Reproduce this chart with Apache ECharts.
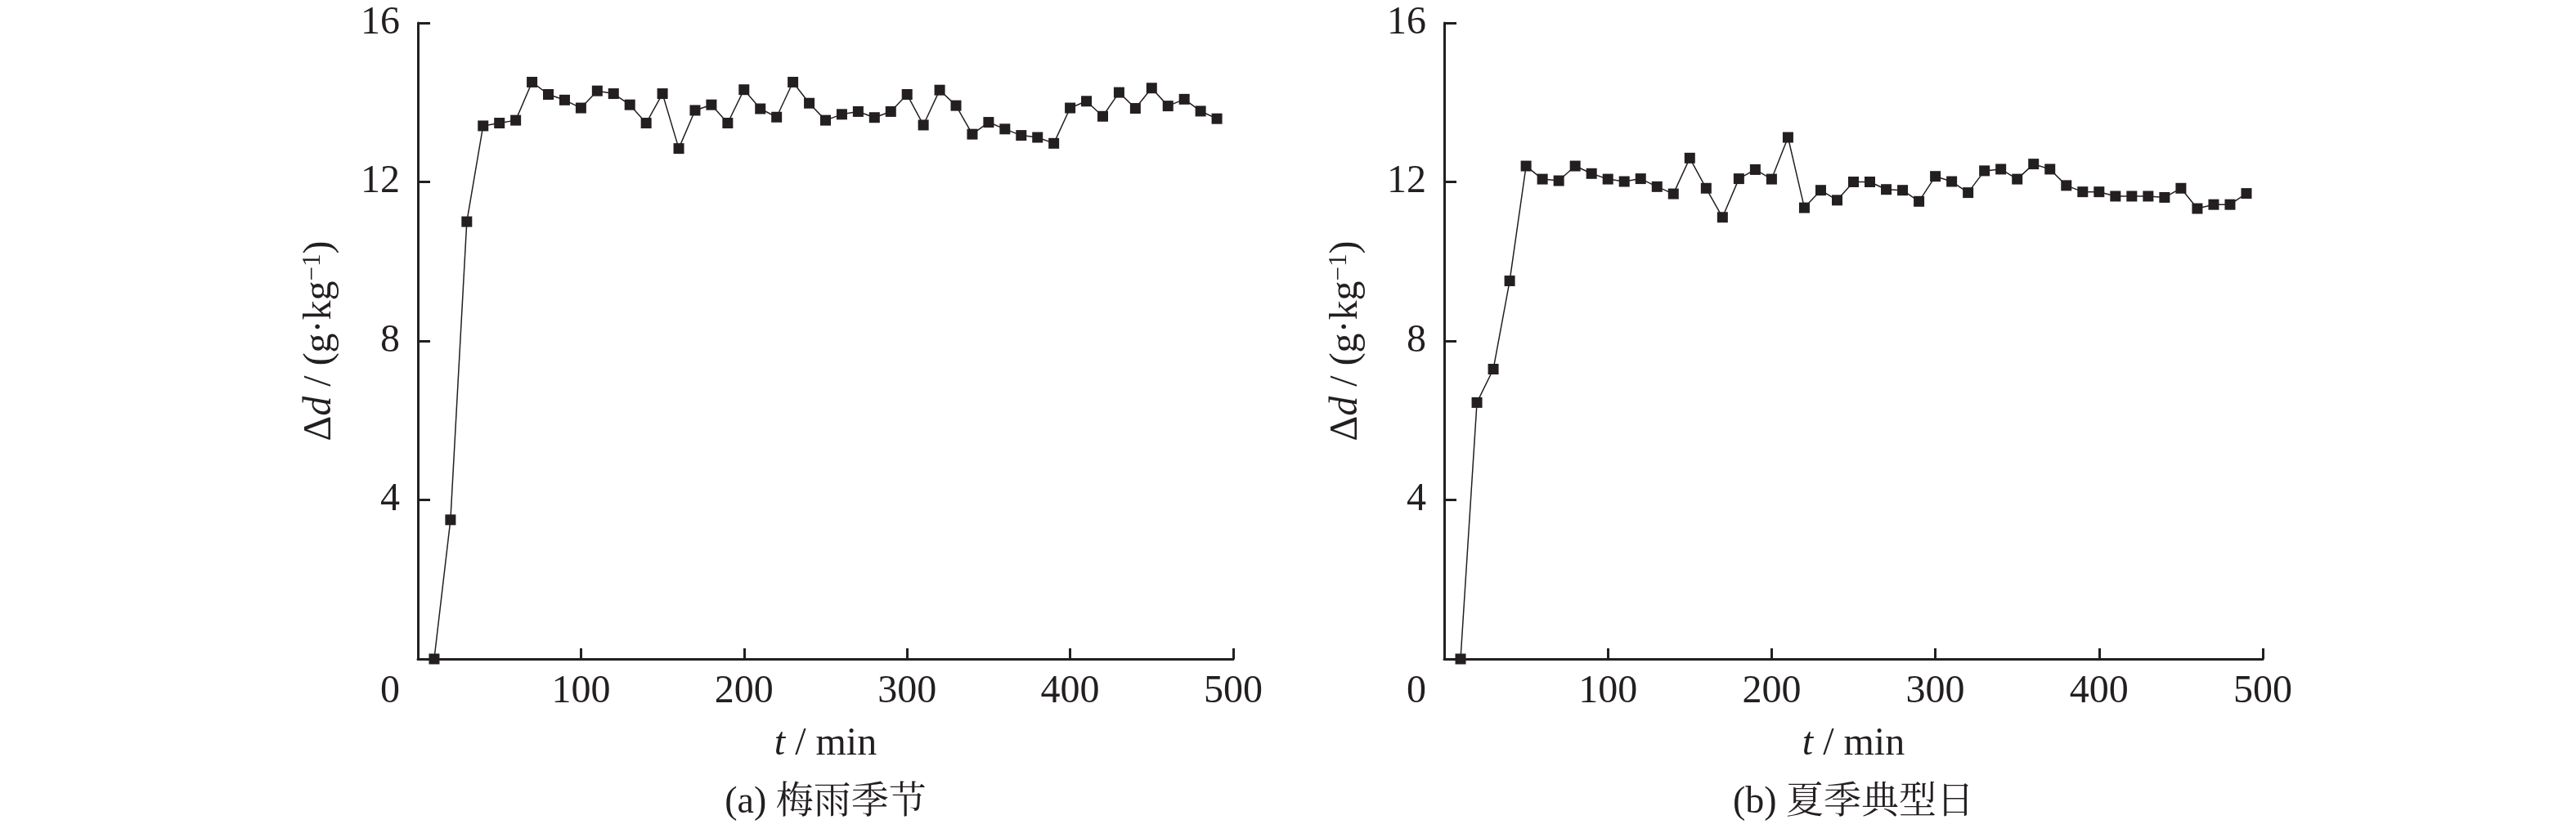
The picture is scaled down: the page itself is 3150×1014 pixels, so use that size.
<!DOCTYPE html>
<html lang="zh">
<head>
    <meta charset="UTF-8">
    <title>ECharts</title>
    <style>
        html, body { margin: 0; padding: 0; background: #fff; }
    </style>
</head>
<body>
<div id="main" style="width:3150px;height:1014px"></div>
</body>
<script src="https://cdn.jsdelivr.net/npm/echarts@6/dist/echarts.min.js"></script>

<script>
    // time (min)
    var times = [10, 20, 30, 40, 50, 60, 70, 80, 90, 100,
        110, 120, 130, 140, 150, 160, 170, 180, 190, 200,
        210, 220, 230, 240, 250, 260, 270, 280, 290, 300,
        310, 320, 330, 340, 350, 360, 370, 380, 390, 400,
        410, 420, 430, 440, 450, 460, 470, 480, 490];

    // (a) 梅雨季节
    var plumRain = [0, 3.5, 11.0, 13.41, 13.48, 13.55, 14.51, 14.2, 14.06, 13.86,
        14.29, 14.22, 13.94, 13.48, 14.22, 12.84, 13.8, 13.94, 13.48, 14.32,
        13.84, 13.63, 14.51, 13.98, 13.55, 13.70, 13.77, 13.62, 13.77, 14.20,
        13.43, 14.31, 13.92, 13.20, 13.50, 13.33, 13.17, 13.12, 12.97, 13.86,
        14.03, 13.65, 14.25, 13.85, 14.36, 13.91, 14.08, 13.78, 13.59];

    // (b) 夏季典型日
    var summerDay = [0, 6.45, 7.29, 9.51, 12.40, 12.07, 12.03, 12.40, 12.21, 12.07,
        12.01, 12.08, 11.88, 11.70, 12.60, 11.84, 11.11, 12.08, 12.31, 12.07,
        13.12, 11.35, 11.79, 11.54, 12.0, 12.0, 11.81, 11.79, 11.51, 12.14,
        12.01, 11.73, 12.28, 12.32, 12.07, 12.45, 12.32, 11.91, 11.75, 11.75,
        11.64, 11.64, 11.64, 11.61, 11.84, 11.33, 11.43, 11.43, 11.71];

    var captions = ['(a) 梅雨季节', '(b) 夏季典型日'];
    var xTicks = {min: 0, max: 500, interval: 100};
    var yTicks = {min: 0, max: 16, interval: 4};

    var ink = '#231f20';
    var serif = "'Liberation Serif', 'Times New Roman', serif";
    var cjk = "'Liberation Serif', 'Noto Serif CJK SC', 'Noto Sans CJK SC', serif";

    function pairs(vals) {
        var out = [];
        for (var i = 0; i < vals.length; i++) {
            out.push([times[i], vals[i]]);
        }
        return out;
    }

    var gridPos = [
        {left: 511, top: 28, width: 997, height: 778},
        {left: 1766, top: 28, width: 1001, height: 778}
    ];

    var grids = [], xAxes = [], yAxes = [], series = [], titles = [];
    var allData = [plumRain, summerDay];

    for (var k = 0; k < 2; k++) {
        grids.push(gridPos[k]);
        xAxes.push({
            type: 'value',
            gridIndex: k,
            min: xTicks.min,
            max: xTicks.max,
            interval: xTicks.interval,
            name: '{i|t}{n| / min}',
            nameLocation: 'middle',
            nameGap: 80,
            nameTextStyle: {
                rich: {
                    i: {fontFamily: serif, fontSize: 48, fontStyle: 'italic', color: ink},
                    n: {fontFamily: serif, fontSize: 48, color: ink}
                }
            },
            axisLine: {lineStyle: {color: ink, width: 3}},
            axisTick: {inside: true, length: 13, lineStyle: {color: ink, width: 3}},
            splitLine: {show: false},
            axisLabel: {
                margin: 16,
                fontFamily: serif,
                fontSize: 48,
                color: ink,
                formatter: function (v) {
                    return v === 0 ? '{z|0}' : String(v);
                },
                rich: {
                    z: {fontFamily: serif, fontSize: 48, color: ink, padding: [0, 68, 0, 0]}
                }
            }
        });
        yAxes.push({
            type: 'value',
            gridIndex: k,
            min: yTicks.min,
            max: yTicks.max,
            interval: yTicks.interval,
            name: '{n|Δ}{i|d}{n| / (g·kg}{s|−1}{n|)}',
            nameLocation: 'middle',
            nameGap: 96,
            nameTextStyle: {
                rich: {
                    n: {fontFamily: serif, fontSize: 48, color: ink},
                    i: {fontFamily: serif, fontSize: 48, fontStyle: 'italic', color: ink},
                    s: {fontFamily: serif, fontSize: 31, color: ink, verticalAlign: 'top', lineHeight: 30}
                }
            },
            axisLine: {lineStyle: {color: ink, width: 3}},
            axisTick: {inside: true, length: 15, lineStyle: {color: ink, width: 3}},
            splitLine: {show: false},
            axisLabel: {
                margin: 22,
                fontFamily: serif,
                fontSize: 48,
                color: ink,
                formatter: function (v) {
                    return v === 0 ? '' : String(v);
                }
            }
        });
        series.push({
            type: 'line',
            xAxisIndex: k,
            yAxisIndex: k,
            data: pairs(allData[k]),
            symbol: 'rect',
            symbolSize: 13,
            showSymbol: true,
            itemStyle: {color: ink},
            lineStyle: {color: ink, width: 1.5}
        });
        titles.push({
            text: captions[k],
            left: gridPos[k].left + gridPos[k].width / 2,
            top: 959,
            textAlign: 'center',
            padding: 0,
            textStyle: {fontFamily: cjk, fontSize: 46, fontWeight: 'normal', color: ink}
        });
    }

    var myChart = echarts.init(document.getElementById('main'));
    myChart.setOption({
        animation: false,
        backgroundColor: '#fff',
        title: titles,
        grid: grids,
        xAxis: xAxes,
        yAxis: yAxes,
        series: series
    });
</script>
</html>
